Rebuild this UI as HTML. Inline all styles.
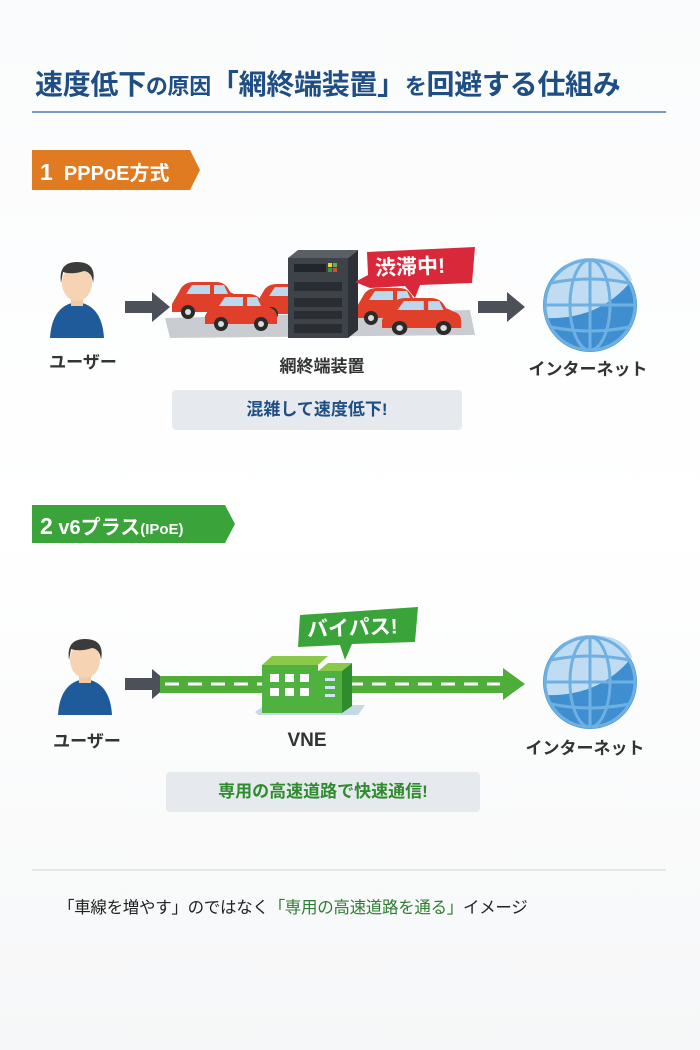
<!DOCTYPE html>
<html><head><meta charset="utf-8"><style>
body{margin:0;width:700px;height:1050px;background:linear-gradient(#fafbfc,#ffffff 50%,#f6f7f8);font-family:"Liberation Sans","Noto Sans CJK JP",sans-serif;position:relative;overflow:hidden}
.a{position:absolute}
.lbl{position:absolute;font-size:17px;font-weight:bold;color:#333;text-align:center;width:160px}
</style></head><body>
<div class="a" style="left:35px;top:63px;font-size:28px;font-weight:bold;color:#1f4e85;white-space:nowrap;letter-spacing:-0.3px">速度低下<span style="font-size:22px">の原因</span>「網終端装置」<span style="font-size:22px">を</span>回避する仕組み</div>
<div class="a" style="left:32px;top:111px;width:634px;height:2px;background:#7a9cc2"></div>

<svg class="a" style="left:0;top:0" width="700" height="1050">
<defs>
<g id="car"><path d="M0,22 L8,8 Q12,0 22,0 L44,0 Q54,0 58,10 L66,14 Q72,16 72,24 L72,30 L0,30 Z" fill="#e0402a"/>
<path d="M14,12 L20,3 L38,3 L38,12 Z M42,12 L42,3 L52,3 L56,12 Z" fill="#bcd8ec"/>
<circle cx="16" cy="30" r="7" fill="#2b2b2b"/><circle cx="16" cy="30" r="3" fill="#ddd"/>
<circle cx="56" cy="30" r="7" fill="#2b2b2b"/><circle cx="56" cy="30" r="3" fill="#ddd"/></g>
</defs>
<polygon points="32,150 190,150 200,170 190,190 32,190" fill="#e07b22"/>
<polygon points="32,505 225,505 235,524 225,543 32,543" fill="#3aa33a"/>
<g id="p">
<path d="M50,338 Q52,305 77,302 Q102,305 104,338 Z" fill="#1f5a9a"/>
<rect x="71" y="292" width="12" height="14" fill="#f2c9a6"/>
<ellipse cx="77" cy="283" rx="15" ry="18" fill="#f6d3b3"/>
<path d="M61,283 Q58,262 77,262 Q97,262 93,283 Q92,272 84,271 Q72,275 63,272 Z" fill="#3b3b3b"/>
</g>
<use href="#p" transform="translate(8,377)"/>
<polygon points="125,301 152,301 152,292 170,307 152,322 152,313 125,313" fill="#4c5159"/>
<polygon points="478,301 507,301 507,292 525,307 507,322 507,313 478,313" fill="#4c5159"/>
<polygon points="125,678 152,678 152,669 170,684 152,699 152,690 125,690" fill="#4c5159"/>
<path d="M165,318 L470,310 L475,335 L170,338 Z" fill="#c9cdd1"/>
<use href="#car" transform="translate(172,282)"/>
<use href="#car" transform="translate(255,284)"/>
<use href="#car" transform="translate(355,288)"/>
<use href="#car" transform="translate(205,294)"/>
<use href="#car" transform="translate(382,298) scale(1.1,1)"/>
<polygon points="288,258 298,250 358,250 348,258" fill="#5a5f66"/>
<polygon points="348,258 358,250 358,330 348,338" fill="#2d3036"/>
<rect x="288" y="258" width="60" height="80" fill="#3e434a"/>
<rect x="294" y="264" width="32" height="8" fill="#22252a"/>
<rect x="328" y="263" width="4" height="4" fill="#e8d23a"/><rect x="333" y="263" width="4" height="4" fill="#5bb35b"/><rect x="328" y="268" width="4" height="4" fill="#3a9a3a"/><rect x="333" y="268" width="4" height="4" fill="#e04a2a"/>
<rect x="294" y="282" width="48" height="9" fill="#2a2d32"/><rect x="294" y="298" width="48" height="9" fill="#2a2d32"/><rect x="294" y="311" width="48" height="8" fill="#2a2d32"/><rect x="294" y="324" width="48" height="9" fill="#2a2d32"/>
<polygon points="367,252 475,247 472,283 420,285 415,298 405,286 370,288 355,282 368,275" fill="#d8283a"/>
<g id="g"><circle cx="590" cy="305" r="47" fill="#3f8fd0"/>
<path d="M548,290 Q560,258 590,258 Q625,258 632,280 Q600,320 545,318 Z" fill="#bfdcf2"/>
<g fill="none" stroke="#6fb0e3" stroke-width="3"><circle cx="590" cy="305" r="45"/><ellipse cx="590" cy="305" rx="20" ry="45"/><line x1="590" y1="260" x2="590" y2="350"/><line x1="545" y1="305" x2="635" y2="305"/><path d="M551,283 Q590,275 629,283"/><path d="M551,327 Q590,335 629,327"/></g></g>
<use href="#g" transform="translate(0,377)"/>
<rect x="160" y="676" width="345" height="17" fill="#4fae3a"/>
<polygon points="503,668 525,684 503,700" fill="#4fae3a"/>
<line x1="165" y1="684" x2="500" y2="684" stroke="#fff" stroke-width="3" stroke-dasharray="14,9"/>
<polygon points="255,712 265,705 365,705 358,715 258,715" fill="#c5d8e6"/>
<polygon points="262,665 272,656 328,656 318,665" fill="#8bc94a"/>
<rect x="262" y="665" width="56" height="48" fill="#4fb23f"/>
<polygon points="318,671 328,663 352,663 342,671" fill="#8bc94a"/>
<polygon points="342,671 352,663 352,706 342,713" fill="#2e8c2e"/>
<rect x="318" y="671" width="24" height="42" fill="#4fb23f"/>
<g fill="#fff"><rect x="270" y="674" width="9" height="8"/><rect x="285" y="674" width="9" height="8"/><rect x="300" y="674" width="9" height="8"/><rect x="270" y="688" width="9" height="8"/><rect x="285" y="688" width="9" height="8"/><rect x="300" y="688" width="9" height="8"/></g>
<g fill="#cde6f5"><rect x="325" y="678" width="10" height="3"/><rect x="325" y="686" width="10" height="3"/><rect x="325" y="694" width="10" height="3"/></g>
<polygon points="300,615 418,607 415,642 352,644 345,660 340,645 298,647" fill="#3aa33a"/>
<line x1="32" y1="870" x2="666" y2="870" stroke="#dde1e5" stroke-width="1.5"/>
</svg>

<div class="a" style="left:40px;top:157px;font-size:20px;font-weight:bold;color:#fff;white-space:nowrap"><span style="font-size:23px">1</span>&nbsp; PPPoE方式</div>
<div class="a" style="left:40px;top:511px;font-size:20px;font-weight:bold;color:#fff;white-space:nowrap"><span style="font-size:23px">2</span> v6プラス<span style="font-size:15px">(IPoE)</span></div>
<div class="a" style="left:375px;top:251px;font-size:21px;font-weight:bold;color:#fff;white-space:nowrap;transform:rotate(-2deg)">渋滞中!</div>
<div class="a" style="left:307px;top:612px;font-size:21px;font-weight:bold;color:#fff;white-space:nowrap;transform:rotate(-2deg)">バイパス!</div>

<div class="lbl" style="left:3px;top:348px">ユーザー</div>
<div class="lbl" style="left:242px;top:352px">網終端装置</div>
<div class="lbl" style="left:508px;top:355px">インターネット</div>
<div class="lbl" style="left:7px;top:727px">ユーザー</div>
<div class="lbl" style="left:227px;top:730px;font-size:19px">VNE</div>
<div class="lbl" style="left:505px;top:734px">インターネット</div>

<div class="a" style="left:172px;top:390px;width:290px;height:40px;background:#e6eaee;border-radius:4px;text-align:center;line-height:40px;font-size:17px;font-weight:bold;color:#1f4e85">混雑して速度低下!</div>
<div class="a" style="left:166px;top:772px;width:314px;height:40px;background:#e6eaee;border-radius:4px;text-align:center;line-height:40px;font-size:17px;font-weight:bold;color:#2e8b2e">専用の高速道路で快速通信!</div>

<div class="a" style="left:58px;top:894px;font-size:16.5px;color:#222;white-space:nowrap;letter-spacing:-0.3px">「車線を増やす」のではなく<span style="color:#2e7d32">「専用の高速道路を通る」</span>イメージ</div>
</body></html>
